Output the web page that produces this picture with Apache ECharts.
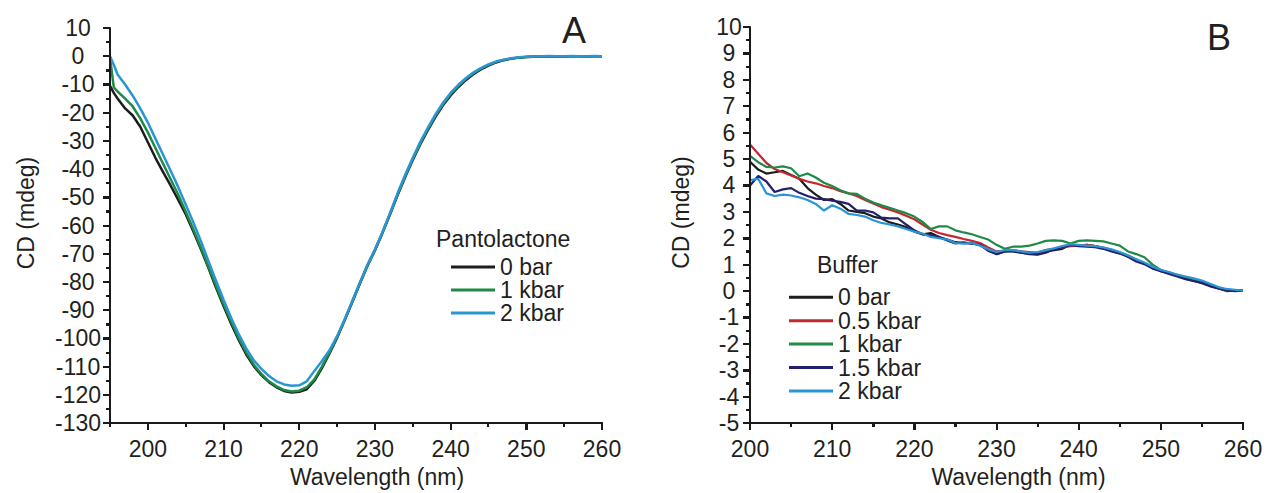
<!DOCTYPE html>
<html><head><meta charset="utf-8">
<script src="https://cdn.jsdelivr.net/npm/echarts@6/dist/echarts.min.js"></script>
<style>html,body{margin:0;padding:0;background:#fff}#wrap{position:relative;width:1267px;height:493px}#c{width:1267px;height:493px}#ov{position:absolute;left:0;top:0;width:1267px;height:493px;pointer-events:none}</style>
</head><body><div id="wrap"><div id="c"></div><div id="ov"></div></div>
<script>
// ---------- Panel A : Pantolactone ----------
const wavelengthA = [195,195.5,196,197,198,199,200,201,202,203,204,205,206,207,208,209,210,211,212,213,214,215,216,217,218,219,220,221,222,223,224,225,226,227,228,229,230,231,232,233,234,235,236,237,238,239,240,241,242,243,244,245,246,247,248,249,250,251,252,253,254,255,256,257,258,259,260];
const pantoBar0 = [-10.5,-13,-15,-18.5,-21,-25,-30.5,-36,-41,-45.8,-50.8,-56,-62,-68.3,-75,-82,-88.5,-94.8,-100.5,-105.7,-109.8,-113,-115.5,-117.3,-118.6,-119.2,-118.9,-118,-115,-110.5,-105.3,-99.8,-93.6,-87.2,-80.6,-74.3,-68.8,-62.6,-56,-49.2,-42.8,-36.8,-31.2,-26.2,-21.5,-17.4,-13.9,-11,-8.5,-6.4,-4.7,-3.3,-2.2,-1.4,-0.9,-0.5,-0.3,-0.2,-0.1,-0.1,0,-0.1,0,0,-0.1,0,0];
const pantoKbar1 = [-0.5,-11,-12.5,-15,-17.8,-22,-27,-32.5,-38,-43.5,-49,-55,-61.3,-67.8,-74.5,-81.3,-87.8,-94,-99.8,-105,-109.3,-112.6,-115.2,-117,-118.3,-118.8,-118.5,-117.3,-114.5,-110,-105,-99.6,-93.5,-87,-80.5,-74.2,-68.7,-62.5,-55.8,-49,-42.5,-36.5,-30.8,-25.8,-21,-17,-13.4,-10.6,-8.1,-6,-4.4,-3.1,-2,-1.3,-0.8,-0.5,-0.3,-0.1,0,0,0,0,0,0,0,0,0];
const pantoKbar2 = [0,-3,-6.5,-10,-14,-18.5,-23.5,-29.2,-34.8,-40.5,-46.3,-52.5,-58.8,-65.5,-72.5,-79.5,-86.3,-92.7,-98.5,-103.5,-107.8,-110.8,-113.3,-115.2,-116.3,-116.8,-116.6,-115.2,-111.5,-108,-104.2,-99.2,-93.2,-86.8,-80.3,-74,-68.5,-62.3,-55.5,-48.5,-42,-36,-30.3,-25.3,-20.6,-16.5,-13,-10.2,-7.8,-5.8,-4.2,-2.9,-1.9,-1.2,-0.7,-0.4,-0.2,-0.1,0,0.1,0,0,0.1,0,0,0.1,0];
const xTicksA = [200,210,220,230,240,250,260];
const xMinorTicksA = [195,205,215,225,235,245,255];
const xRangeA = [195, 260];
const yRangeA = [-130, 10];

// ---------- Panel B : Buffer ----------
const wavelengthB = [200,201,202,203,204,205,206,207,208,209,210,211,212,213,214,215,216,217,218,219,220,221,222,223,224,225,226,227,228,229,230,231,232,233,234,235,236,237,238,239,240,241,242,243,244,245,246,247,248,249,250,251,252,253,254,255,256,257,258,259,260];
const bufBar0 = [4.9,4.6,4.45,4.5,4.55,4.4,4.25,3.9,3.65,3.45,3.48,3.3,3.05,3.0,2.95,2.82,2.75,2.6,2.52,2.42,2.25,2.15,2.2,2.05,1.95,1.85,1.82,1.8,1.75,1.55,1.4,1.5,1.5,1.45,1.42,1.4,1.5,1.55,1.6,1.75,1.72,1.75,1.7,1.62,1.55,1.45,1.35,1.2,1.05,0.9,0.75,0.68,0.58,0.48,0.38,0.32,0.2,0.1,0.0,0.02,0.02];
const bufKbar05 = [5.55,5.2,4.85,4.62,4.5,4.38,4.25,4.15,4.08,3.98,3.9,3.78,3.7,3.6,3.45,3.32,3.18,3.08,2.98,2.85,2.72,2.52,2.32,2.2,2.12,2.05,1.97,1.9,1.82,1.65,1.5,1.52,1.55,1.5,1.48,1.45,1.55,1.6,1.65,1.7,1.72,1.75,1.7,1.65,1.55,1.45,1.3,1.18,1.05,0.9,0.78,0.7,0.6,0.52,0.42,0.35,0.22,0.12,0.02,0.03,0.02];
const bufKbar1 = [5.12,4.88,4.7,4.68,4.72,4.65,4.35,4.45,4.3,4.1,3.98,3.82,3.7,3.68,3.5,3.35,3.25,3.15,3.05,2.95,2.82,2.62,2.35,2.45,2.45,2.3,2.22,2.15,2.05,1.95,1.75,1.6,1.68,1.68,1.72,1.8,1.9,1.92,1.9,1.8,1.9,1.92,1.9,1.88,1.8,1.72,1.5,1.4,1.28,1.0,0.8,0.7,0.62,0.52,0.45,0.35,0.25,0.12,0.05,0.04,0.02];
const bufKbar15 = [4.0,4.36,4.15,3.75,3.85,3.9,3.72,3.6,3.5,3.48,3.42,3.38,3.3,3.05,3.05,2.98,2.78,2.75,2.75,2.52,2.3,2.15,2.12,2.05,1.92,1.8,1.85,1.8,1.75,1.52,1.4,1.5,1.52,1.45,1.4,1.38,1.45,1.58,1.65,1.75,1.7,1.68,1.66,1.6,1.5,1.42,1.3,1.12,1.02,0.85,0.75,0.65,0.55,0.45,0.38,0.3,0.18,0.1,0.03,0.0,0.02];
const bufKbar2 = [4.2,4.25,3.7,3.6,3.65,3.62,3.55,3.45,3.3,3.05,3.25,3.12,2.92,2.88,2.82,2.68,2.58,2.52,2.45,2.35,2.25,2.18,2.05,2.0,1.95,1.82,1.8,1.82,1.72,1.58,1.48,1.55,1.55,1.5,1.45,1.48,1.55,1.62,1.7,1.78,1.75,1.72,1.7,1.65,1.58,1.48,1.35,1.2,1.08,0.92,0.8,0.72,0.62,0.55,0.48,0.4,0.28,0.15,0.08,0.05,0.02];
const xRangeB = [200, 260];
const yRangeB = [-5, 10];

const namesA = ['0 bar','1 kbar','2 kbar'];
const namesB = ['0 bar','0.5 kbar','1 kbar','1.5 kbar','2 kbar'];

const FONT = 'Arial';
const TXT = '#231f20';
const AX = '#1a1a1a';
const COL = {'0 bar':'#1c1c1c','0.5 kbar':'#c4282f','1 kbar':'#1f8a47','1.5 kbar':'#23206c','2 kbar':'#2b95d3'};

function pairs(xs, ys){ return xs.map((x,i)=>[x, ys[i]]); }
function steps(a, b, s){ const r=[]; for(let k=0; a+k*s<=b+1e-9; k++) r.push(+(a+k*s).toFixed(4)); return r; }
function axLine(){ return {show:true, onZero:false, lineStyle:{color:AX, width:2}}; }
function tick(len, extra){ return Object.assign({show:true, length:len, lineStyle:{color:AX, width:2}}, extra||{}); }
function lbl(extra){ return Object.assign({color:TXT, fontSize:23, fontFamily:FONT}, extra||{}); }
function nameStyle(pad){ return {fontSize:23, color:TXT, fontFamily:FONT, padding:pad}; }

function lineSeries(name, data, xi, yi, w){
  return {type:'line', name:name, xAxisIndex:xi, yAxisIndex:yi, data:data, symbol:'none', showSymbol:false,
    lineStyle:{color:COL[name], width:w}, itemStyle:{color:COL[name]}, emphasis:{disabled:true}};
}

const chart = echarts.init(document.getElementById('c'), null, {renderer:'svg'});

const option = {
  animation:false,
  grid:[
    {left:110, top:28, width:492, height:396},
    {left:750, top:27, width:493, height:397}
  ],
  title:[
    {text:'A', left:562, top:12, padding:0, textStyle:{fontSize:36, fontWeight:'normal', color:TXT, fontFamily:FONT}},
    {text:'B', left:1207, top:19, padding:0, textStyle:{fontSize:36, fontWeight:'normal', color:TXT, fontFamily:FONT}},
    {text:'Pantolactone', left:436, top:227, padding:0, textStyle:{fontSize:23, lineHeight:23, fontWeight:'normal', color:TXT, fontFamily:FONT}},
    {text:'Buffer', left:817, top:253, padding:0, textStyle:{fontSize:23, lineHeight:23, fontWeight:'normal', color:TXT, fontFamily:FONT}}
  ],
  legend:[
    {data:namesA.map(n=>({name:n})), orient:'vertical', left:451, top:255.5, padding:0, itemGap:0,
     icon:'rect', itemWidth:44, itemHeight:3, selectedMode:false,
     textStyle:{fontSize:23, lineHeight:22.5, color:TXT, fontFamily:FONT}},
    {data:namesB.map(n=>({name:n})), orient:'vertical', left:789, top:285.6, padding:0, itemGap:0,
     icon:'rect', itemWidth:44, itemHeight:3, selectedMode:false,
     textStyle:{fontSize:23, lineHeight:23.4, color:TXT, fontFamily:FONT}}
  ],
  xAxis:[
    {type:'value', gridIndex:0, min:xRangeA[0], max:xRangeA[1],
     name:'Wavelength (nm)', nameLocation:'middle', nameGap:40, nameTextStyle:nameStyle([0,0,0,42]),
     axisLine:axLine(),
     axisTick:tick(7, {customValues:xTicksA}),
     axisLabel:lbl({customValues:xTicksA, margin:14}),
     splitLine:{show:false}},
    {type:'value', gridIndex:1, min:xRangeB[0], max:xRangeB[1], interval:10,
     name:'Wavelength (nm)', nameLocation:'middle', nameGap:40, nameTextStyle:nameStyle([0,0,0,44]),
     axisLine:axLine(),
     axisTick:tick(7),
     minorTick:tick(4, {splitNumber:2}),
     axisLabel:lbl({margin:14}),
     splitLine:{show:false}}
  ],
  yAxis:[
    {type:'value', gridIndex:0, min:yRangeA[0], max:yRangeA[1], interval:10,
     name:'CD (mdeg)', nameLocation:'middle', nameGap:73, nameTextStyle:nameStyle([0,0,0,25]),
     axisLine:axLine(),
     axisTick:tick(7),
     minorTick:tick(4, {splitNumber:2}),
     axisLabel:lbl({margin:32, align:'center'}),
     splitLine:{show:false}},
    {type:'value', gridIndex:1, min:yRangeB[0], max:yRangeB[1], interval:1,
     name:'CD (mdeg)', nameLocation:'middle', nameGap:58, nameTextStyle:nameStyle([0,0,0,25]),
     axisLine:axLine(),
     axisTick:tick(7),
     minorTick:tick(4, {splitNumber:2}),
     axisLabel:lbl({margin:21, align:'center'}),
     splitLine:{show:false}}
  ],
  series:[
    lineSeries('0 bar', pairs(wavelengthA, pantoBar0), 0, 0, 2.5),
    lineSeries('1 kbar', pairs(wavelengthA, pantoKbar1), 0, 0, 2.5),
    lineSeries('2 kbar', pairs(wavelengthA, pantoKbar2), 0, 0, 2.5),
    lineSeries('0 bar', pairs(wavelengthB, bufBar0), 1, 1, 2.2),
    lineSeries('0.5 kbar', pairs(wavelengthB, bufKbar05), 1, 1, 2.2),
    lineSeries('1 kbar', pairs(wavelengthB, bufKbar1), 1, 1, 2.2),
    lineSeries('1.5 kbar', pairs(wavelengthB, bufKbar15), 1, 1, 2.2),
    lineSeries('2 kbar', pairs(wavelengthB, bufKbar2), 1, 1, 2.2)
  ]
};
chart.setOption(option);

// Axis frame and ticks, positioned through the chart's own scales (convertToPixel)
const ov = document.getElementById('ov');
function bar(l, t, w, h){
  const d = document.createElement('div');
  d.style.cssText = 'position:absolute;left:'+l+'px;top:'+t+'px;width:'+w+'px;height:'+h+'px;background:'+AX;
  ov.appendChild(d);
}
function frame(gi, xr, yr, xMaj, xMin, yMaj, yMin){
  const p0 = chart.convertToPixel({gridIndex:gi}, [xr[0], yr[0]]);
  const p1 = chart.convertToPixel({gridIndex:gi}, [xr[1], yr[1]]);
  const x0 = Math.round(p0[0]), y0 = Math.round(p0[1]), x1 = Math.round(p1[0]), y1 = Math.round(p1[1]);
  bar(x0-1, y1, 2, y0-y1+1);
  bar(x0-1, y0-1, x1-x0+2, 2);
  xMaj.forEach(v=>{ const px=Math.round(chart.convertToPixel({gridIndex:gi},[v,yr[0]])[0]); bar(px-1, y0, 2, 7); });
  xMin.forEach(v=>{ const px=Math.round(chart.convertToPixel({gridIndex:gi},[v,yr[0]])[0]); bar(px-1, y0, 2, 4); });
  yMaj.forEach(v=>{ const py=Math.round(chart.convertToPixel({gridIndex:gi},[xr[0],v])[1]); bar(x0-7, py-1, 7, 2); });
  yMin.forEach(v=>{ const py=Math.round(chart.convertToPixel({gridIndex:gi},[xr[0],v])[1]); bar(x0-4, py-1, 4, 2); });
}
frame(0, xRangeA, yRangeA, xTicksA, xMinorTicksA, steps(-130,10,10), steps(-125,5,10));
frame(1, xRangeB, yRangeB, steps(200,260,10), steps(205,255,10), steps(-5,10,1), steps(-4.5,9.5,1));
</script>
</body></html>
